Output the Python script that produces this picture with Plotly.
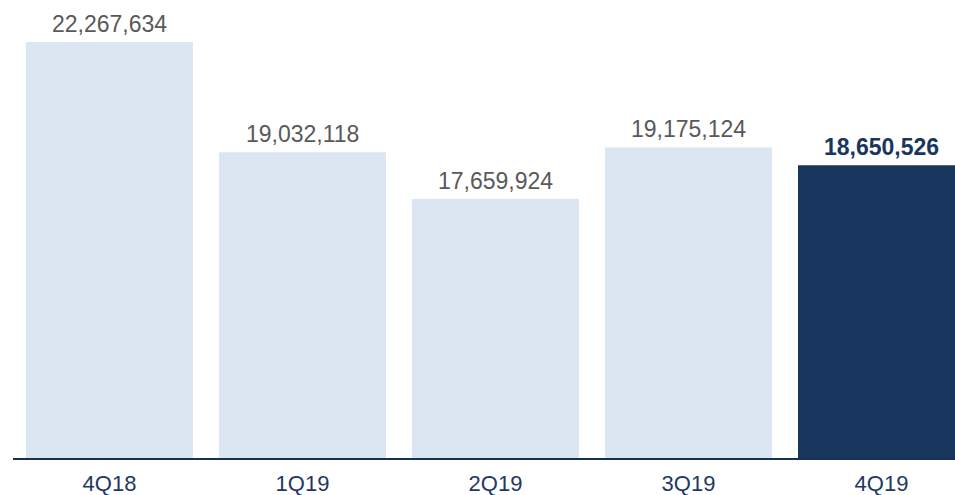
import plotly.graph_objects as go

categories = ["4Q18", "1Q19", "2Q19", "3Q19", "4Q19"]
values = [22267634, 19032118, 17659924, 19175124, 18650526]
highlight = [False, False, False, False, True]

light = "#dce6f2"
dark = "#19365e"
colors = [dark if h else light for h in highlight]

fig = go.Figure()
fig.add_trace(go.Bar(
    x=categories, y=values, marker=dict(color=colors, line=dict(width=0)),
    hoverinfo="skip", showlegend=False,
))

for c, v, h in zip(categories, values, highlight):
    fig.add_annotation(
        x=c, y=v, text=f"<b>{v:,}</b>" if h else f"{v:,}",
        showarrow=False, yanchor="bottom", yshift=3,
        font=dict(family="Liberation Sans, Arial, sans-serif", size=23,
                  color=dark if h else "#595959"),
    )

fig.update_layout(
    width=955, height=495,
    margin=dict(l=13, r=0, t=0, b=37, autoexpand=False),
    paper_bgcolor="white", plot_bgcolor="white",
    bargap=0.135,
    font=dict(family="Liberation Sans, Arial, sans-serif"),
    xaxis=dict(
        range=[-0.5, 4.381], showgrid=False, zeroline=False,
        showline=True, linecolor="#1a2f55", linewidth=1.5,
        ticks="outside", ticklen=5, tickcolor="rgba(0,0,0,0)",
        tickfont=dict(size=22, color="#1f3864"),
        automargin=False,
    ),
    yaxis=dict(
        range=[10065000, 23500000], visible=False, showgrid=False,
        zeroline=False, automargin=False,
    ),
)

fig.write_html(
    "out.html",
    config={"displayModeBar": False, "staticPlot": True},
    post_script="document.body.style.margin='0';document.body.style.overflow='hidden';",
)
